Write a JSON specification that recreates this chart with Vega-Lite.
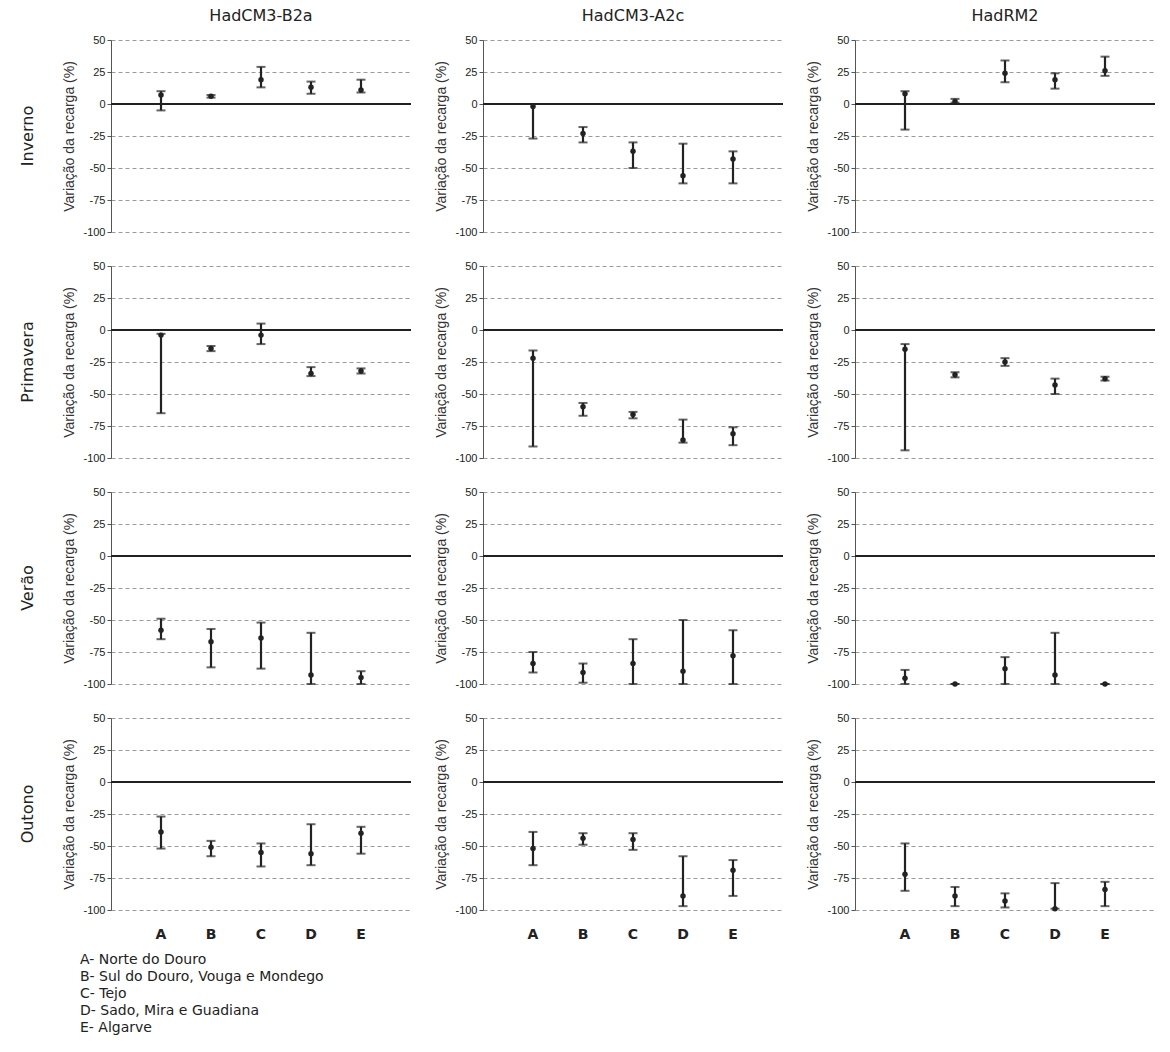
{
  "$schema": "https://vega.github.io/schema/vega-lite/v6.json",
  "background": "white",
  "padding": {"left": 20, "top": 8, "right": 5, "bottom": 5},
  "data": {"values": [
    {"season":"Inverno","model":"HadCM3-B2a","region":"A","mean":7,"low":-5,"high":10},
    {"season":"Inverno","model":"HadCM3-B2a","region":"B","mean":6,"low":5,"high":7},
    {"season":"Inverno","model":"HadCM3-B2a","region":"C","mean":19,"low":13,"high":29},
    {"season":"Inverno","model":"HadCM3-B2a","region":"D","mean":13,"low":8,"high":17.5},
    {"season":"Inverno","model":"HadCM3-B2a","region":"E","mean":11,"low":9,"high":19},
    {"season":"Inverno","model":"HadCM3-A2c","region":"A","mean":-2,"low":-27,"high":0},
    {"season":"Inverno","model":"HadCM3-A2c","region":"B","mean":-23,"low":-30,"high":-18},
    {"season":"Inverno","model":"HadCM3-A2c","region":"C","mean":-37,"low":-50,"high":-30},
    {"season":"Inverno","model":"HadCM3-A2c","region":"D","mean":-56,"low":-62,"high":-31},
    {"season":"Inverno","model":"HadCM3-A2c","region":"E","mean":-43,"low":-62,"high":-37},
    {"season":"Inverno","model":"HadRM2","region":"A","mean":8,"low":-20,"high":10},
    {"season":"Inverno","model":"HadRM2","region":"B","mean":2,"low":1,"high":4},
    {"season":"Inverno","model":"HadRM2","region":"C","mean":24,"low":17,"high":34},
    {"season":"Inverno","model":"HadRM2","region":"D","mean":19,"low":12,"high":24},
    {"season":"Inverno","model":"HadRM2","region":"E","mean":26,"low":22,"high":37},
    {"season":"Primavera","model":"HadCM3-B2a","region":"A","mean":-4,"low":-65,"high":-3},
    {"season":"Primavera","model":"HadCM3-B2a","region":"B","mean":-14.5,"low":-16.5,"high":-12.5},
    {"season":"Primavera","model":"HadCM3-B2a","region":"C","mean":-4,"low":-11,"high":5},
    {"season":"Primavera","model":"HadCM3-B2a","region":"D","mean":-34,"low":-36,"high":-29},
    {"season":"Primavera","model":"HadCM3-B2a","region":"E","mean":-32,"low":-34,"high":-30},
    {"season":"Primavera","model":"HadCM3-A2c","region":"A","mean":-22,"low":-91,"high":-16},
    {"season":"Primavera","model":"HadCM3-A2c","region":"B","mean":-60,"low":-67,"high":-57},
    {"season":"Primavera","model":"HadCM3-A2c","region":"C","mean":-66,"low":-69,"high":-64},
    {"season":"Primavera","model":"HadCM3-A2c","region":"D","mean":-86,"low":-88,"high":-70},
    {"season":"Primavera","model":"HadCM3-A2c","region":"E","mean":-81,"low":-90,"high":-76},
    {"season":"Primavera","model":"HadRM2","region":"A","mean":-15,"low":-94,"high":-11},
    {"season":"Primavera","model":"HadRM2","region":"B","mean":-35,"low":-37,"high":-33},
    {"season":"Primavera","model":"HadRM2","region":"C","mean":-25,"low":-28,"high":-22},
    {"season":"Primavera","model":"HadRM2","region":"D","mean":-43,"low":-50,"high":-38},
    {"season":"Primavera","model":"HadRM2","region":"E","mean":-38,"low":-39.5,"high":-36.5},
    {"season":"Verão","model":"HadCM3-B2a","region":"A","mean":-58,"low":-65,"high":-49},
    {"season":"Verão","model":"HadCM3-B2a","region":"B","mean":-67,"low":-87,"high":-57},
    {"season":"Verão","model":"HadCM3-B2a","region":"C","mean":-64,"low":-88,"high":-52},
    {"season":"Verão","model":"HadCM3-B2a","region":"D","mean":-93,"low":-100,"high":-60},
    {"season":"Verão","model":"HadCM3-B2a","region":"E","mean":-95,"low":-100,"high":-90},
    {"season":"Verão","model":"HadCM3-A2c","region":"A","mean":-84,"low":-91,"high":-75},
    {"season":"Verão","model":"HadCM3-A2c","region":"B","mean":-91,"low":-99,"high":-84},
    {"season":"Verão","model":"HadCM3-A2c","region":"C","mean":-84,"low":-100,"high":-65},
    {"season":"Verão","model":"HadCM3-A2c","region":"D","mean":-90,"low":-100,"high":-50},
    {"season":"Verão","model":"HadCM3-A2c","region":"E","mean":-78,"low":-100,"high":-58},
    {"season":"Verão","model":"HadRM2","region":"A","mean":-95.5,"low":-100,"high":-89},
    {"season":"Verão","model":"HadRM2","region":"B","mean":-100,"low":-100,"high":-100},
    {"season":"Verão","model":"HadRM2","region":"C","mean":-88,"low":-100,"high":-79},
    {"season":"Verão","model":"HadRM2","region":"D","mean":-93,"low":-100,"high":-60},
    {"season":"Verão","model":"HadRM2","region":"E","mean":-100,"low":-100,"high":-100},
    {"season":"Outono","model":"HadCM3-B2a","region":"A","mean":-39,"low":-52,"high":-27},
    {"season":"Outono","model":"HadCM3-B2a","region":"B","mean":-51,"low":-58,"high":-46},
    {"season":"Outono","model":"HadCM3-B2a","region":"C","mean":-55,"low":-66,"high":-48},
    {"season":"Outono","model":"HadCM3-B2a","region":"D","mean":-56,"low":-65,"high":-33},
    {"season":"Outono","model":"HadCM3-B2a","region":"E","mean":-40,"low":-56,"high":-35},
    {"season":"Outono","model":"HadCM3-A2c","region":"A","mean":-52,"low":-65,"high":-39},
    {"season":"Outono","model":"HadCM3-A2c","region":"B","mean":-44,"low":-49,"high":-40},
    {"season":"Outono","model":"HadCM3-A2c","region":"C","mean":-45,"low":-53,"high":-40},
    {"season":"Outono","model":"HadCM3-A2c","region":"D","mean":-89,"low":-97,"high":-58},
    {"season":"Outono","model":"HadCM3-A2c","region":"E","mean":-69,"low":-89,"high":-61},
    {"season":"Outono","model":"HadRM2","region":"A","mean":-72,"low":-85,"high":-48},
    {"season":"Outono","model":"HadRM2","region":"B","mean":-89,"low":-97,"high":-82},
    {"season":"Outono","model":"HadRM2","region":"C","mean":-93,"low":-98,"high":-87},
    {"season":"Outono","model":"HadRM2","region":"D","mean":-99,"low":-99,"high":-79},
    {"season":"Outono","model":"HadRM2","region":"E","mean":-84,"low":-97,"high":-78}
  ]},
  "title": {
    "text": ["A- Norte do Douro", "B- Sul do Douro, Vouga e Mondego", "C- Tejo", "D- Sado, Mira e Guadiana", "E- Algarve"],
    "orient": "bottom",
    "anchor": "start",
    "frame": "bounds",
    "offset": 12,
    "dx": 60,
    "font": "DejaVu Sans",
    "fontSize": 14,
    "fontWeight": "normal",
    "color": "#222",
    "lineHeight": 17
  },
  "facet": {
    "row": {"field": "season", "type": "nominal", "sort": ["Inverno", "Primavera", "Verão", "Outono"],
      "header": {"title": null, "labelAngle": -90, "labelOrient": "left", "labelFontSize": 16, "labelFont": "DejaVu Sans", "labelColor": "#222", "labelPadding": 18}},
    "column": {"field": "model", "type": "nominal", "sort": ["HadCM3-B2a", "HadCM3-A2c", "HadRM2"],
      "header": {"title": null, "labelFontSize": 16, "labelFont": "DejaVu Sans", "labelColor": "#222", "labelPadding": 10}}
  },
  "spacing": {"row": 23, "column": 22},
  "resolve": {"axis": {"y": "independent"}},
  "spec": {
    "width": 300,
    "height": 192,
    "encoding": {
      "x": {"field": "region", "type": "ordinal", "sort": ["A","B","C","D","E"],
        "scale": {"paddingOuter": 0.5, "paddingInner": 0},
        "axis": {"title": null, "labelAngle": 0, "labelFontWeight": "bold", "labelFontSize": 14, "labelFont": "DejaVu Sans", "labelColor": "#222", "domain": false, "ticks": false, "labelPadding": 12}}
    },
    "layer": [
      {"mark": {"type": "rule", "color": "#222", "strokeWidth": 1.5},
       "encoding": {
         "y": {"datum": 0, "type": "quantitative", "scale": {"domain": [-100, 50], "nice": false},
           "axis": {"title": "Variação da recarga (%)", "values": [-100, -75, -50, -25, 0, 25, 50], "tickCount": 7}},
         "x": null}},
      {"mark": {"type": "rule", "color": "#222", "strokeWidth": 2.2},
       "encoding": {
         "y": {"field": "low", "type": "quantitative", "axis": {"title": "Variação da recarga (%)", "values": [-100, -75, -50, -25, 0, 25, 50], "tickCount": 7}},
         "y2": {"field": "high"}}},
      {"mark": {"type": "tick", "color": "#222", "thickness": 2, "size": 9},
       "encoding": {"y": {"field": "low", "type": "quantitative", "axis": {"title": "Variação da recarga (%)", "values": [-100, -75, -50, -25, 0, 25, 50], "tickCount": 7}}}},
      {"mark": {"type": "tick", "color": "#222", "thickness": 2, "size": 9},
       "encoding": {"y": {"field": "high", "type": "quantitative", "axis": {"title": "Variação da recarga (%)", "values": [-100, -75, -50, -25, 0, 25, 50], "tickCount": 7}}}},
      {"mark": {"type": "point", "filled": true, "color": "#222", "size": 30, "opacity": 1},
       "encoding": {"y": {"field": "mean", "type": "quantitative", "axis": {"title": "Variação da recarga (%)", "values": [-100, -75, -50, -25, 0, 25, 50], "tickCount": 7}}}}
    ]
  },
  "config": {
    "view": {"stroke": null},
    "axisY": {
      "titleFont": "Liberation Sans", "titleFontSize": 14, "titleFontWeight": "normal", "titleColor": "#333", "titlePadding": 6,
      "labelExpr": "'' + datum.value", "labelFont": "Liberation Sans", "labelFontSize": 11, "labelColor": "#222", "labelOverlap": false,
      "grid": true, "gridDash": [4, 3], "gridColor": "#9a9a9a", "gridWidth": 1,
      "domainColor": "#555", "tickColor": "#555", "tickSize": 4
    }
  }
}
